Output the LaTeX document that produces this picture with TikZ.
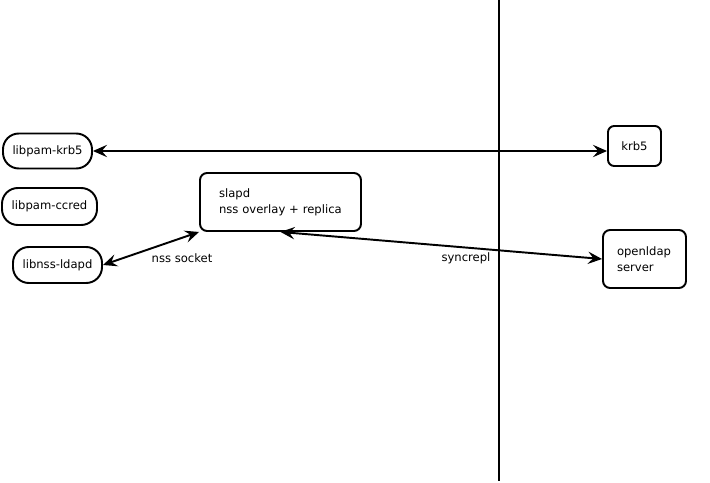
\documentclass[tikz,border=0pt]{standalone}
\usepackage{fontspec}
\setmainfont{DejaVu Sans}
\usetikzlibrary{arrows.meta}

\begin{document}
\begin{tikzpicture}[x=0.02cm, y=-0.02cm,
  every node/.style={font=\fontsize{6.6}{9.1}\selectfont},
  pill/.style={draw, line width=1.1pt, rounded corners=9pt, inner sep=0pt},
  box/.style={draw, line width=1.1pt, rounded corners=4pt, inner sep=0pt},
  link/.style={line width=1.1pt, {Stealth[length=8pt,width=7pt,inset=3pt]}-{Stealth[length=8pt,width=7pt,inset=3pt]}}]
\useasboundingbox (0,0) rectangle (710,483);
\draw [line width=1.1pt] (499,0) -- (499,481);
\node (pamkrb) at (47.5,151) [pill, minimum width=1.78cm, minimum height=0.70cm] {libpam-krb5};
\node (pamccred) at (49.5,206.5) [pill, minimum width=1.90cm, minimum height=0.74cm] {libpam-ccred};
\node (nssldapd) at (57.5,265) [pill, minimum width=1.78cm, minimum height=0.72cm] {libnss-ldapd};
\node (slapd) at (280.5,202) [box, minimum height=1.16cm, text width=2.46cm, inner xsep=0.38cm, align=left] {slapd\\nss overlay + replica};
\node (krb) at (634.5,146) [box, rounded corners=3.5pt, minimum width=1.06cm, minimum height=0.80cm] {krb5};
\node (ldapserver) at (644.5,259) [box, minimum height=1.16cm, text width=1.10cm, inner xsep=0.28cm, align=left] {openldap\\server};
\draw [link] (pamkrb.east) -- (krb.west |- pamkrb.east);
\draw [link] (nssldapd.east) -- (slapd.south west);
\draw [link] (slapd.south) -- (ldapserver.west);
\node (socketlabel) at (182,258) {nss socket};
\node (synclabel) at (466,258) {syncrepl};
\end{tikzpicture}
\end{document}
